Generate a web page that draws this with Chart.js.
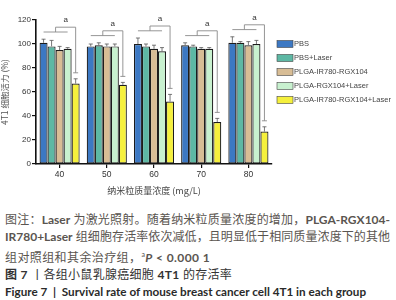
<!DOCTYPE html>
<html lang="zh">
<head>
<meta charset="UTF-8">
<title>4T1 细胞活力</title>
<script src="https://cdn.jsdelivr.net/npm/chart.js"></script>
<style>
  body { margin: 0; background: #fff; width: 396px; height: 300px; overflow: hidden; }
  #wrap { width: 396px; height: 200px; }
  .cap { padding: 11px 6px 0 5px; font-family: Lato, "Noto Sans CJK SC", sans-serif; font-size: 12px; line-height: 17.3px; color: #5a5550; }
  .cap div { white-space: nowrap; }
  .cap .j { text-align: justify; text-align-last: justify; white-space: normal; }
  .cap .t3 { letter-spacing: 0.4px; }
  .cap .t4 { color: #333; letter-spacing: 0.3px; }
  .cap .t5 { color: #2a2a2a; font-weight: bold; font-size: 11.7px; }
</style>
</head>
<body>
<div id="wrap"><canvas id="myChart" width="396" height="200"></canvas></div>
<div class="cap">
  <div class="j">图注：<b>Laser</b> 为激光照射。随着纳米粒质量浓度的增加，<b>PLGA-RGX104-</b></div>
  <div class="j"><b>IR780+Laser</b> 组细胞存活率依次减低，且明显低于相同质量浓度下的其他</div>
  <div class="t3">组对照组和其余治疗组，<sup style="font-size:7px">a</sup><i><b>P</b></i><b> &lt; 0.000 1</b></div>
  <div class="t4"><b>图 7</b> 丨各组小鼠乳腺癌细胞 <b>4T1</b> 的存活率</div>
  <div class="t5">Figure 7 &nbsp;|&nbsp; Survival rate of mouse breast cancer cell 4T1 in each group</div>
</div>

<script>
  // 数据
  const concentrations = ['40', '50', '60', '70', '80'];
  const groupNames = ['PBS', 'PBS+Laser', 'PLGA-IR780-RGX104', 'PLGA-RGX104+Laser', 'PLGA-IR780-RGX104+Laser'];

  const pbs = [101, 98, 100, 99, 101];
  const pbsLaser = [98, 99, 98, 98, 101];
  const plgaIR = [95, 98, 96, 96, 99];
  const plgaRGXLaser = [96, 98, 94, 96, 100];
  const plgaIRRGXLaser = [67, 66, 52, 35, 27];

  const pbsErr = [3, 2, 5, 2, 5];
  const pbsLaserErr = [5, 2, 2, 1, 1];
  const plgaIRErr = [3, 2, 3, 1, 3];
  const plgaRGXLaserErr = [1, 2, 3, 1, 3];
  const plgaIRRGXLaserErr = [4, 2, 6, 3, 4];

  const yTicks = [0, 20, 40, 60, 80, 100, 120];

  const colors = ['#3c78c3', '#5db8a4', '#d8bd95', '#c8f1cf', '#f5f03c'];
  const seriesValues = [pbs, pbsLaser, plgaIR, plgaRGXLaser, plgaIRRGXLaser];
  const seriesErrors = [pbsErr, pbsLaserErr, plgaIRErr, plgaRGXLaserErr, plgaIRRGXLaserErr];

  // 误差线
  const errorBarPlugin = {
    id: 'errorBars',
    afterDatasetsDraw(chart) {
      const {ctx, scales: {y}} = chart;
      ctx.save();
      ctx.strokeStyle = '#555';
      ctx.lineWidth = 0.8;
      chart.data.datasets.forEach((ds, i) => {
        const meta = chart.getDatasetMeta(i);
        meta.data.forEach((bar, j) => {
          const top = y.getPixelForValue(ds.data[j] + ds.errors[j]);
          ctx.beginPath();
          ctx.moveTo(bar.x, bar.y);
          ctx.lineTo(bar.x, top);
          ctx.moveTo(bar.x - 2, top);
          ctx.lineTo(bar.x + 2, top);
          ctx.stroke();
        });
      });
      ctx.restore();
    }
  };

  // 显著性括号
  const bracketPlugin = {
    id: 'brackets',
    afterDatasetsDraw(chart) {
      const {ctx, scales: {y}} = chart;
      ctx.save();
      ctx.strokeStyle = '#8a8a8a';
      ctx.lineWidth = 0.9;
      ctx.fillStyle = '#333';
      ctx.font = '8px "Liberation Sans", Arial, sans-serif';
      ctx.textAlign = 'center';
      ctx.textBaseline = 'bottom';
      concentrations.forEach((c, j) => {
        let peak = 0;
        for (let i = 0; i < 4; i++) peak = Math.max(peak, seriesValues[i][j] + seriesErrors[i][j]);
        const low = y.getPixelForValue(peak + 6);
        const high = y.getPixelForValue(peak + 10);
        const first = chart.getDatasetMeta(0).data[j].x;
        const fourth = chart.getDatasetMeta(3).data[j].x;
        const last = chart.getDatasetMeta(4).data[j].x;
        const mid = (first + fourth) / 2;
        const end = y.getPixelForValue(plgaIRRGXLaser[j] + plgaIRRGXLaserErr[j] + 5);
        ctx.beginPath();
        ctx.moveTo(first, low); ctx.lineTo(fourth, low);
        ctx.moveTo(mid, low); ctx.lineTo(mid, high); ctx.lineTo(last, high); ctx.lineTo(last, end);
        ctx.moveTo(last - 2.5, end); ctx.lineTo(last + 2.5, end);
        ctx.stroke();
        ctx.fillText('a', (mid + last) / 2, high - 3);
      });
      ctx.restore();
    }
  };

  // 图例
  const legendPlugin = {
    id: 'sideLegend',
    afterDraw(chart) {
      const {ctx} = chart;
      ctx.save();
      ctx.font = '7.5px "Liberation Sans", Arial, sans-serif';
      ctx.textBaseline = 'middle';
      groupNames.forEach((name, i) => {
        const yy = 44 + i * 14;
        ctx.fillStyle = colors[i];
        ctx.fillRect(277, yy - 3.5, 16, 7);
        ctx.strokeStyle = '#444';
        ctx.lineWidth = 0.6;
        ctx.strokeRect(277, yy - 3.5, 16, 7);
        ctx.fillStyle = '#444';
        ctx.fillText(name, 294, yy);
      });
      ctx.restore();
    }
  };

  const config = {
    type: 'bar',
    data: {
      labels: concentrations,
      datasets: groupNames.map((name, i) => ({
        label: name,
        data: seriesValues[i],
        errors: seriesErrors[i],
        backgroundColor: colors[i],
        borderColor: '#1c1c1c',
        borderWidth: 1.2,
        borderSkipped: false,
        categoryPercentage: 0.85,
        barPercentage: 1
      }))
    },
    options: {
      responsive: false,
      animation: false,
      layout: { padding: { top: 20, right: 124, left: 0, bottom: 0 } },
      plugins: {
        legend: { display: false },
        tooltip: { enabled: false }
      },
      scales: {
        x: {
          afterFit(scale) { scale.height = 36; },
          border: { display: true, color: '#111', width: 1.6 },
          grid: { display: true, offset: false, drawOnChartArea: false, tickLength: 4, color: '#111', lineWidth: 1.2 },
          ticks: { color: '#333', font: { size: 8.5, family: '"Liberation Sans", Arial' }, padding: 2 },
          title: { display: true, text: '纳米粒质量浓度 (mg/L)', color: '#444', font: { size: 9, family: '"Noto Sans CJK SC"' }, padding: { top: 2 } }
        },
        y: {
          min: 0,
          max: 120,
          afterFit(scale) { scale.width = 36; },
          afterBuildTicks(scale) { scale.ticks = yTicks.map(v => ({value: v})); },
          border: { display: true, color: '#111', width: 1.6 },
          grid: { display: true, drawOnChartArea: false, tickLength: 4, color: '#111', lineWidth: 1.2 },
          ticks: { color: '#333', font: { size: 8, family: '"Liberation Sans", Arial' }, padding: 1 },
          title: { display: true, text: '4T1 细胞活力 (%)', color: '#555', font: { size: 8.5, family: '"Noto Sans CJK SC"' }, padding: 0 }
        }
      }
    },
    plugins: [errorBarPlugin, bracketPlugin, legendPlugin]
  };

  new Chart(document.getElementById('myChart').getContext('2d'), config);
</script>
</body>
</html>
